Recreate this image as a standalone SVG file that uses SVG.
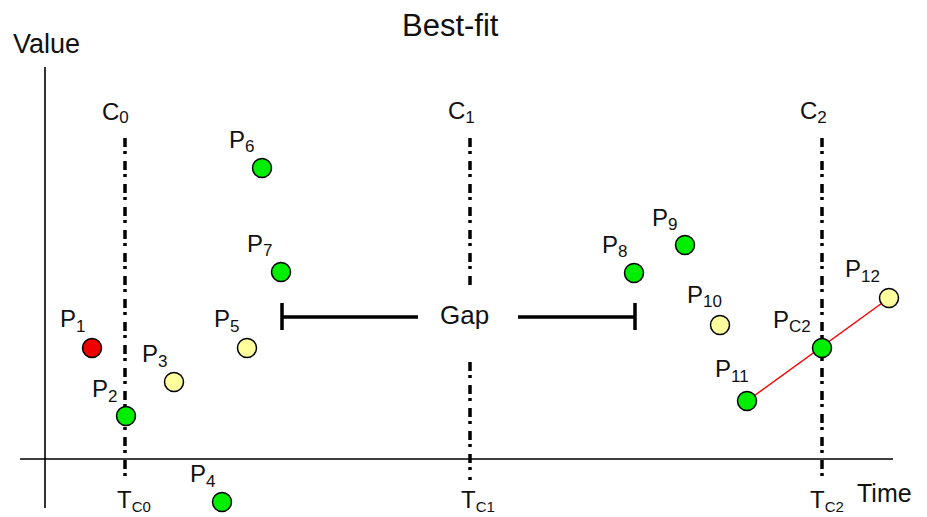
<svg xmlns="http://www.w3.org/2000/svg" width="927" height="517" viewBox="0 0 927 517">
<style>
text{font-family:"Liberation Sans",Arial,sans-serif;fill:#111}
.lbl{font-size:24px}
.sub{font-size:17px}
.tsub{font-size:15px}
.big{font-size:27px}
.pt{stroke:#000;stroke-width:1.5}
.g{fill:#00ee00}
.y{fill:#ffff9e}
.r{fill:#ee0000}
.axis{stroke:#000;stroke-width:1.6;fill:none}
.cl{stroke:#000;stroke-width:3.5;stroke-dasharray:9 4 3 7;fill:none}
.gap{stroke:#000;stroke-width:3.5;fill:none}
</style>
<rect width="927" height="517" fill="#fff"/>
<g id="axes">
<line class="axis" x1="45" y1="67" x2="45" y2="508"/>
<line class="axis" x1="20" y1="459" x2="893" y2="459"/>
<text class="big" x="13" y="53">Value</text>
<text class="big" x="857" y="502" style="font-size:25px">Time</text>
<text x="402" y="36" style="font-size:31px">Best-fit</text>
</g>
<g id="C0">
<line class="cl" x1="125" y1="138" x2="125" y2="480"/>
<text class="lbl" x="102" y="120">C<tspan class="sub" dy="3">0</tspan></text>
<text class="lbl" x="117" y="508">T<tspan class="tsub" dy="4">C0</tspan></text>
</g>
<g id="C1">
<line class="cl" x1="470" y1="138" x2="470" y2="287"/>
<line class="cl" x1="470" y1="362" x2="470" y2="480"/>
<text class="lbl" x="448" y="119">C<tspan class="sub" dy="4">1</tspan></text>
<text class="lbl" x="461" y="508">T<tspan class="tsub" dy="4">C1</tspan></text>
</g>
<g id="C2">
<line class="cl" x1="822" y1="138" x2="822" y2="480"/>
<text class="lbl" x="800" y="119">C<tspan class="sub" dy="4">2</tspan></text>
<text class="lbl" x="810" y="508">T<tspan class="tsub" dy="4">C2</tspan></text>
</g>
<g id="connectors">
<line x1="747" y1="401" x2="889" y2="298" stroke="#ff0000" stroke-width="1.5"/>
<path class="gap" d="M282 303V330M282 317H418M518 317H635M635 303V330"/>
</g>
<g id="gap-label">
<text x="440" y="324" style="font-size:26px">Gap</text>
</g>
<g id="P1"><circle class="pt r" cx="92" cy="348" r="9.5"/><text class="lbl" x="60" y="327">P<tspan class="sub" dy="5">1</tspan></text></g>
<g id="P2"><circle class="pt g" cx="126" cy="416" r="9.5"/><text class="lbl" x="92" y="397">P<tspan class="sub" dy="5">2</tspan></text></g>
<g id="P3"><circle class="pt y" cx="174" cy="382" r="9.5"/><text class="lbl" x="142" y="362">P<tspan class="sub" dy="5">3</tspan></text></g>
<g id="P4"><circle class="pt g" cx="222" cy="502" r="9.5"/><text class="lbl" x="190" y="482">P<tspan class="sub" dy="5">4</tspan></text></g>
<g id="P5"><circle class="pt y" cx="247" cy="348" r="9.5"/><text class="lbl" x="214" y="327">P<tspan class="sub" dy="5">5</tspan></text></g>
<g id="P6"><circle class="pt g" cx="262" cy="168" r="9.5"/><text class="lbl" x="229" y="148">P<tspan class="sub" dy="4">6</tspan></text></g>
<g id="P7"><circle class="pt g" cx="281" cy="272" r="9.5"/><text class="lbl" x="247" y="252">P<tspan class="sub" dy="4">7</tspan></text></g>
<g id="P8"><circle class="pt g" cx="634" cy="273" r="9.5"/><text class="lbl" x="602" y="253">P<tspan class="sub" dy="4">8</tspan></text></g>
<g id="P9"><circle class="pt g" cx="685" cy="245" r="9.5"/><text class="lbl" x="652" y="226">P<tspan class="sub" dy="4">9</tspan></text></g>
<g id="P10"><circle class="pt y" cx="720" cy="325" r="9.5"/><text class="lbl" x="687" y="303">P<tspan class="sub" dy="4">10</tspan></text></g>
<g id="P11"><circle class="pt g" cx="747" cy="401" r="9.5"/><text class="lbl" x="715" y="377">P<tspan class="sub" dy="5">11</tspan></text></g>
<g id="PC2"><circle class="pt g" cx="822" cy="348" r="9.5"/><text class="lbl" x="773" y="328">P<tspan class="sub" dy="4">C2</tspan></text></g>
<g id="P12"><circle class="pt y" cx="889" cy="298" r="9.5"/><text class="lbl" x="845" y="277">P<tspan class="sub" dy="5">12</tspan></text></g>
</svg>
